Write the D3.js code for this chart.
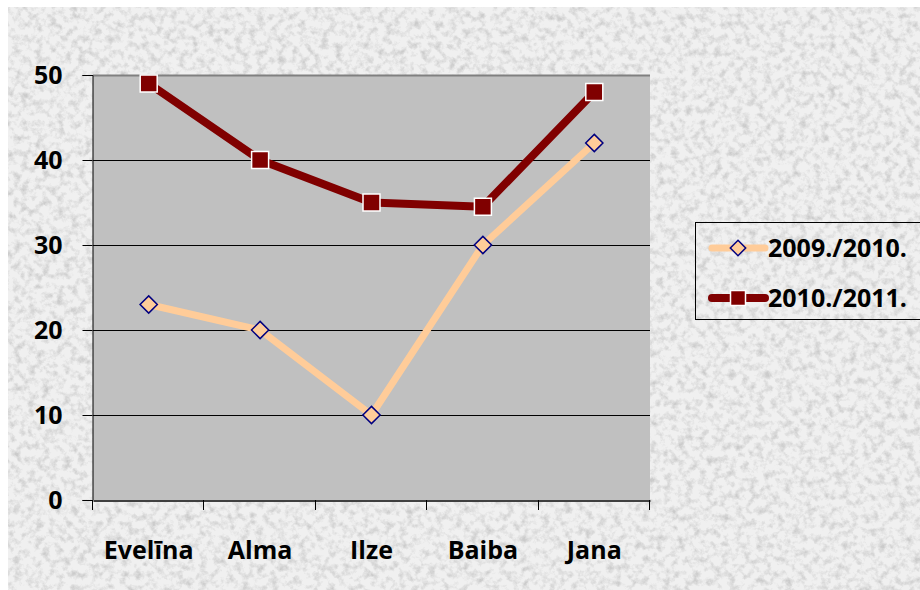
<!DOCTYPE html>
<html>
<head>
<meta charset="utf-8">
<script src="https://cdn.jsdelivr.net/npm/d3@7"></script>
<style>
  body { margin: 0; background: #fff; }
  #canvas { width: 920px; height: 590px; }
  text { font-family: "Open Sans", sans-serif; font-weight: bold; }
</style>
</head>
<body>
<div id="canvas"></div>
<script>
var categories = ['Evelīna', 'Alma', 'Ilze', 'Baiba', 'Jana'];
var series1 = [23, 20, 10, 30, 42];      // 2009./2010.
var series2 = [49, 40, 35, 34.5, 48];    // 2010./2011.
var seriesNames = ['2009./2010.', '2010./2011.'];
var yTicks = [0, 10, 20, 30, 40, 50];

var canvasWidth = 920, canvasHeight = 590;
var plotL = 93, plotR = 650, plotT = 75, plotB = 500;
var fontFam = '"Open Sans", sans-serif';

var svg = d3.select('#canvas')
    .append('svg')
    .attr('width', canvasWidth)
    .attr('height', canvasHeight);

// granite-ish texture
var defs = svg.append('defs');
var f = defs.append('filter').attr('id', 'granite')
    .attr('x', 0).attr('y', 0).attr('width', 1).attr('height', 1)
    .attr('filterUnits', 'objectBoundingBox');
f.append('feTurbulence').attr('type', 'fractalNoise').attr('baseFrequency', 0.14)
    .attr('numOctaves', 4).attr('seed', 7).attr('result', 'noise');
f.append('feColorMatrix').attr('in', 'noise').attr('type', 'matrix')
    .attr('values', '0 0 0 0 0.6  0 0 0 0 0.6  0 0 0 0 0.6  2.4 0 0 0 -1.05');

svg.append('rect').attr('x', 8).attr('y', 7).attr('width', canvasWidth - 8).attr('height', canvasHeight - 7)
    .style('fill', '#f0f0f0');
svg.append('rect').attr('x', 8).attr('y', 7).attr('width', canvasWidth - 8).attr('height', canvasHeight - 7)
    .style('fill', '#000').attr('filter', 'url(#granite)');

var x = d3.scaleBand().domain(categories).range([plotL, plotR]);
var y = d3.scaleLinear().domain([0, 50]).range([plotB, plotT]);

// plot area
svg.append('rect')
    .attr('x', plotL).attr('y', plotT)
    .attr('width', plotR - plotL).attr('height', plotB - plotT)
    .style('fill', '#c0c0c0');
svg.append('line')
    .attr('x1', plotL).attr('x2', plotR).attr('y1', plotT + 0.5).attr('y2', plotT + 0.5)
    .style('stroke', '#808080').style('stroke-width', 2);

// gridlines
svg.selectAll('.grid')
    .data(yTicks.filter(function(d){ return d > 0 && d < 50; }))
    .enter().append('line')
    .attr('x1', plotL).attr('x2', plotR)
    .attr('y1', function(d){ return Math.round(y(d)) + 0.5; })
    .attr('y2', function(d){ return Math.round(y(d)) + 0.5; })
    .style('stroke', '#000').style('stroke-width', 1);

// y axis
var yAxis = svg.append('g')
    .attr('transform', 'translate(' + (plotL - 0.5) + ',0)')
    .call(d3.axisLeft(y).tickValues(yTicks).tickSize(10).tickPadding(20));
yAxis.select('.domain').style('stroke', '#000');
yAxis.selectAll('.tick line').style('stroke', '#000');
yAxis.selectAll('text').style('font-size', '25px').style('fill', '#000')
    .style('font-family', fontFam).style('font-weight', 'bold');

// x axis
var xAxis = svg.append('g')
    .attr('transform', 'translate(0,' + (plotB + 0.5) + ')')
    .call(d3.axisBottom(x).tickSize(0).tickPadding(41));
xAxis.select('.domain').style('stroke', '#404040').style('stroke-width', 2);
xAxis.selectAll('text').style('font-size', '25px').style('fill', '#000')
    .style('font-family', fontFam).style('font-weight', 'bold');
// x tick marks on category boundaries
var bounds = categories.map(function(c){ return x(c); }).concat([plotR]);
svg.selectAll('.xtick')
    .data(bounds)
    .enter().append('line')
    .attr('x1', function(d){ return Math.round(d) - 0.5; })
    .attr('x2', function(d){ return Math.round(d) - 0.5; })
    .attr('y1', plotB).attr('y2', plotB + 10)
    .style('stroke', '#000');

function cx(i){ return x(categories[i]) + x.bandwidth() / 2; }

var line = d3.line()
    .x(function(d, i){ return cx(i); })
    .y(function(d){ return y(d); });

// series 1
svg.append('path').datum(series1)
    .attr('d', line)
    .style('fill', 'none').style('stroke', '#ffcc99').style('stroke-width', 7)
    .style('stroke-linejoin', 'round');
// series 2
svg.append('path').datum(series2)
    .attr('d', line)
    .style('fill', 'none').style('stroke', '#800000').style('stroke-width', 8)
    .style('stroke-linejoin', 'round');

var sym1 = d3.symbol().type(d3.symbolDiamond2).size(190);
svg.selectAll('.m1')
    .data(series1)
    .enter().append('path')
    .attr('d', sym1)
    .attr('transform', function(d, i){ return 'translate(' + cx(i) + ',' + y(d) + ')'; })
    .style('fill', '#ffcc99').style('stroke', '#000080').style('stroke-width', 1.5);

svg.selectAll('.m2')
    .data(series2)
    .enter().append('rect')
    .attr('x', function(d, i){ return cx(i) - 8.5; })
    .attr('y', function(d){ return y(d) - 8.5; })
    .attr('width', 17).attr('height', 17)
    .style('fill', '#800000').style('stroke', '#fff').style('stroke-width', 1.5);

// legend
var lg = svg.append('g');
lg.append('rect')
    .attr('x', 695.5).attr('y', 222.5).attr('width', 240).attr('height', 97)
    .style('fill', 'none').style('stroke', '#000');

var legendY = [248, 298];
// entry 1
lg.append('line').attr('x1', 712).attr('x2', 765).attr('y1', legendY[0]).attr('y2', legendY[0])
    .style('stroke', '#ffcc99').style('stroke-width', 7).style('stroke-linecap', 'round');
lg.append('path').attr('d', d3.symbol().type(d3.symbolDiamond2).size(150))
    .attr('transform', 'translate(738,' + legendY[0] + ')')
    .style('fill', '#ffcc99').style('stroke', '#000080').style('stroke-width', 1.5);
// entry 2
lg.append('line').attr('x1', 712).attr('x2', 765).attr('y1', legendY[1]).attr('y2', legendY[1])
    .style('stroke', '#800000').style('stroke-width', 8).style('stroke-linecap', 'round');
lg.append('rect').attr('x', 730.5).attr('y', legendY[1] - 7.5).attr('width', 15).attr('height', 15)
    .style('fill', '#800000').style('stroke', '#fff').style('stroke-width', 1.5);

lg.selectAll('.lt')
    .data(seriesNames)
    .enter().append('text')
    .attr('x', 768)
    .attr('y', function(d, i){ return legendY[i] + 9; })
    .style('font-size', '25px').style('fill', '#000')
    .style('font-family', fontFam)
    .text(function(d){ return d; });
</script>
</body>
</html>
